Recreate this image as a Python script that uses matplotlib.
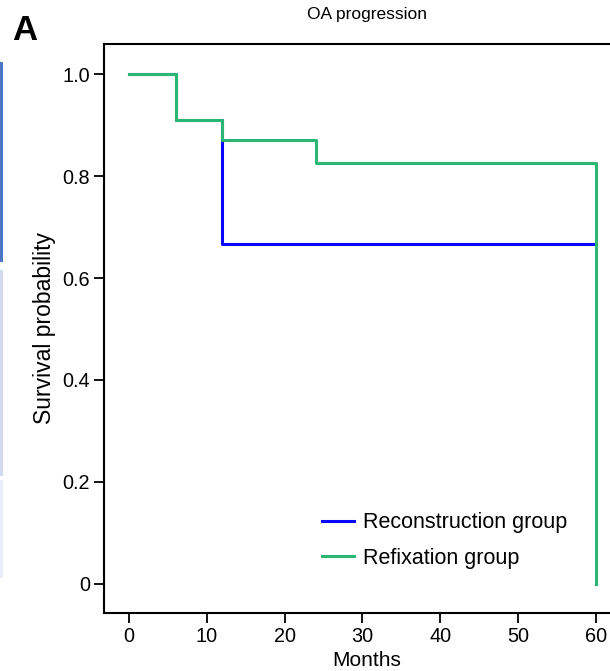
import matplotlib
matplotlib.use("Agg")
import matplotlib.pyplot as plt
from matplotlib.patches import Rectangle

plt.rcParams['font.family'] = ['Liberation Sans', 'DejaVu Sans']

# courbes de survie (Kaplan-Meier, pas a pas)
mois_recon = [0, 6, 12, 60]
surv_recon = [1.0, 0.91, 0.667, 0.667]
mois_refix = [0, 6, 12, 24, 60, 60]
surv_refix = [1.0, 0.91, 0.87, 0.826, 0.826, 0.0]

groupes = ['Reconstruction group', 'Refixation group']
couleurs = ['#0808ff', '#2bb673']
xticks = [0, 10, 20, 30, 40, 50, 60]
yticks = [0, 0.2, 0.4, 0.6, 0.8, 1.0]
ylabels = ['0', '0.2', '0.4', '0.6', '0.8', '1.0']

W, H = 610, 671
fig = plt.figure(figsize=(W / 100, H / 100), dpi=100)
ax = fig.add_axes([104 / W, 1 - 613 / H, (630 - 104) / W, (613 - 44) / H])

ax.step(mois_recon, surv_recon, where='post', color=couleurs[0], lw=2.2, label=groupes[0])
ax.step(mois_refix, surv_refix, where='post', color=couleurs[1], lw=2.2, label=groupes[1])

ax.set_xlim(-3.21, 64.37)
ax.set_ylim(-0.057, 1.059)
ax.set_xticks(xticks)
ax.set_yticks(yticks)
ax.set_yticklabels(ylabels)
ax.tick_params(direction='out', length=7, width=1.3, labelsize=14.3, pad=3)
for s in ax.spines.values():
    s.set_linewidth(1.5)

ax.set_ylabel('Survival probability', fontsize=16.5, labelpad=5)
ax.set_xlabel('Months', fontsize=15, labelpad=4)

leg = ax.legend(loc='upper left', bbox_to_anchor=(0.414, 0.177), frameon=False,
                borderaxespad=0, borderpad=0,
                fontsize=15.5, handlelength=1.5, handletextpad=0.42, labelspacing=0.68)

fig.text(367 / W, 1 - 14 / H, 'OA progression', ha='center', va='center', fontsize=12.5)
fig.text(12 / W, 1 - 30 / H, 'A', ha='left', va='center', fontsize=25, fontweight='bold')

# bandes colorées sur le bord gauche (reste du panneau voisin)
bandes = [(62, 262, '#4a76c6'), (270, 476, '#d3daf0'), (480, 578, '#eaedf8')]
for y0, y1, c in bandes:
    fig.patches.append(Rectangle((0, 1 - y1 / H), 3 / W, (y1 - y0) / H,
                                 transform=fig.transFigure, color=c, lw=0))

fig.savefig('out.png', dpi=100)
